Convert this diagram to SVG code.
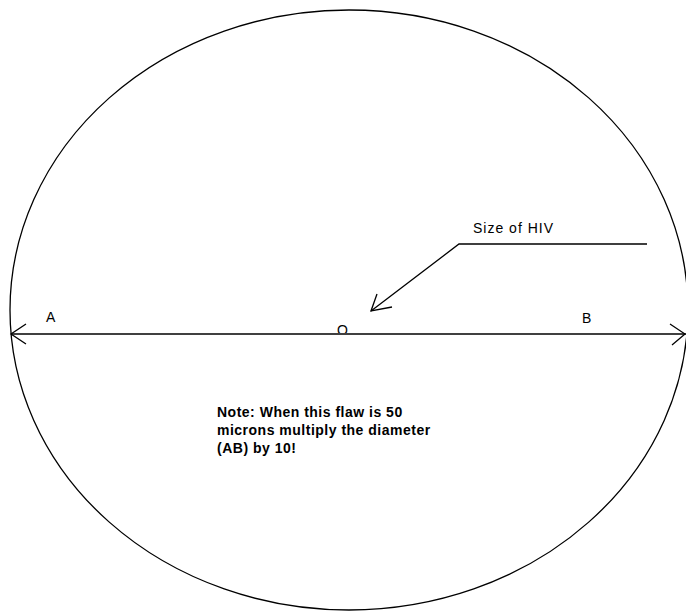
<svg xmlns="http://www.w3.org/2000/svg" width="686" height="611" viewBox="0 0 686 611">
<style>
.ln{stroke:#000;stroke-width:1.3;fill:none}
.t{font-family:"Liberation Sans",Arial,sans-serif;font-size:14px;letter-spacing:1px;fill:#000}
.b{font-family:"Liberation Sans",Arial,sans-serif;font-size:14px;font-weight:bold;letter-spacing:0.5px;fill:#000}
</style>
<defs><clipPath id="above"><rect x="300" y="300" width="80" height="33"/></clipPath></defs>
<rect width="686" height="611" fill="#fff"/>
<g id="ellipse"><ellipse class="ln" cx="349" cy="310" rx="339" ry="300"/></g>
<g id="labels">
<text class="t" x="46" y="322">A</text>
<text class="t" x="582" y="323">B</text>
<text class="t" x="337" y="335" clip-path="url(#above)">O</text>
<text class="t" x="473" y="233">Size of HIV</text>
</g>
<g id="note">
<text class="b" x="217" y="417">Note: When this flaw is 50</text>
<text class="b" x="217" y="435">microns multiply the diameter</text>
<text class="b" x="217" y="453">(AB) by 10!</text>
</g>
<g id="connectors">
<line class="ln" x1="11" y1="334" x2="686" y2="334"/>
<polyline class="ln" points="26,324 11,334 26,344"/>
<polyline class="ln" points="670,324 685,334 672,345"/>
<polyline class="ln" points="647,244 459,244 371,311"/>
<polyline class="ln" points="377,294 371,311 392,307"/>
</g>
</svg>
